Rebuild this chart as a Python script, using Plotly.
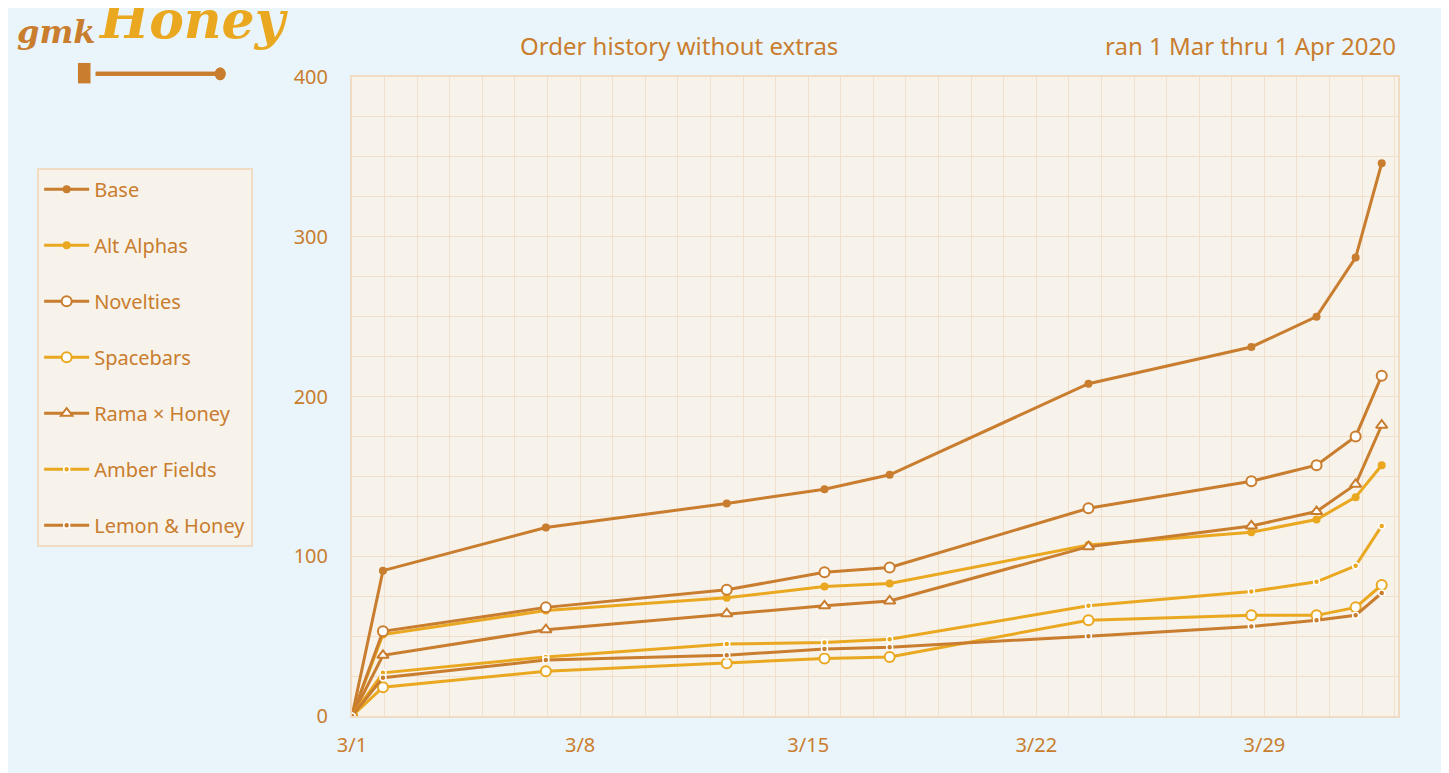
import plotly.graph_objects as go

# days since 1 Mar 2020 (00:00)
days = [0, 0.95, 5.95, 11.5, 14.5, 16.5, 22.6, 27.6, 29.6, 30.8, 31.6]
base = [0, 91, 118, 133, 142, 151, 208, 231, 250, 287, 346]
alt_alphas = [0, 51, 66, 74, 81, 83, 107, 115, 123, 137, 157]
novelties = [0, 53, 68, 79, 90, 93, 130, 147, 157, 175, 213]
spacebars = [0, 18, 28, 33, 36, 37, 60, 63, 63, 68, 82]
rama = [0, 38, 54, 64, 69, 72, 106, 119, 128, 145, 182]
amber = [0, 27, 37, 45, 46, 48, 69, 78, 84, 94, 119]
lemon = [0, 24, 35, 38, 42, 43, 50, 56, 60, 63, 77]
tick_days = [0, 7, 14, 21, 28]
tick_labels = ["3/1", "3/8", "3/15", "3/22", "3/29"]

BROWN = "#C97D2E"
YELLOW = "#EAA820"
PLOTBG = "#F7F2EA"
GRID = "#F0E0CC"
BG = "#EAF5FB"
FONT = "Noto Sans"

series = [
    ("Base", base, BROWN, "circle", BROWN, 8),
    ("Alt Alphas", alt_alphas, YELLOW, "circle", YELLOW, 8),
    ("Novelties", novelties, BROWN, "circle", "white", 10),
    ("Spacebars", spacebars, YELLOW, "circle", "white", 10),
    ("Rama × Honey", rama, BROWN, "triangle-up", "white", 10),
    ("Amber Fields", amber, YELLOW, "circle", YELLOW, 6),
    ("Lemon & Honey", lemon, BROWN, "circle", BROWN, 6),
]

fig = go.Figure()
for i, (name, vals, col, sym, fill, sz) in enumerate(series):
    if fill == "white":
        marker = dict(symbol=sym, size=sz, color="white", line=dict(color=col, width=2))
    elif sz == 6:
        marker = dict(symbol=sym, size=sz, color=col, line=dict(color="white", width=1.5))
    else:
        marker = dict(symbol=sym, size=sz, color=col)
    fig.add_trace(go.Scatter(x=days, y=vals, name=name, mode="lines+markers",
                             line=dict(color=col, width=3), marker=marker,
                             legendgroup=str(i)))

for d in tick_days:
    fig.add_shape(type="line", xref="x", yref="paper", x0=d, x1=d, y0=0, y1=1,
                  line=dict(color="#EFDCC4", width=2.5), layer="below")

fig.update_layout(
    width=1449, height=773,
    paper_bgcolor=BG, plot_bgcolor=PLOTBG,
    margin=dict(l=344, r=59, t=69, b=65),
    font=dict(family=FONT, color=BROWN, size=20),
    showlegend=True,
    legend=dict(x=-0.301, y=0.858, xanchor="left", yanchor="top",
                bgcolor=PLOTBG, bordercolor="#F0DCC2", borderwidth=2,
                font=dict(size=20, color=BROWN), tracegroupgap=27,
                itemwidth=45, entrywidth=200),
    xaxis=dict(range=[0, 32.1], tickmode="array", tickvals=tick_days, ticktext=tick_labels,
               showgrid=True, gridcolor=GRID, gridwidth=1,
               minor=dict(dtick=1, tick0=0, showgrid=True, gridcolor=GRID, gridwidth=1),
               zeroline=False, showline=True, linecolor="#F0DCC2", linewidth=2, mirror=True,
               ticks="", ticklabelstandoff=10, fixedrange=True),
    yaxis=dict(range=[0, 400], tickmode="array", tickvals=[0, 100, 200, 300, 400],
               showgrid=True, gridcolor=GRID, gridwidth=1,
               minor=dict(dtick=25, showgrid=True, gridcolor=GRID, gridwidth=1),
               zeroline=False, showline=True, linecolor="#F0DCC2", linewidth=2, mirror=True,
               ticks="", ticklabelstandoff=18, fixedrange=True),
    annotations=[
        dict(text="Order history without extras", xref="paper", yref="paper",
             x=0.313, y=1.05, xanchor="center", yanchor="middle", showarrow=False,
             font=dict(size=24, color=BROWN)),
        dict(text="ran 1 Mar thru 1 Apr 2020", xref="paper", yref="paper",
             x=1.0, y=1.05, xanchor="right", yanchor="middle", showarrow=False,
             font=dict(size=24, color=BROWN)),
        dict(text="<i><b>gmk</b></i>", xref="paper", yref="paper", x=-0.322, y=1.07,
             xanchor="left", yanchor="middle", showarrow=False,
             font=dict(family="DejaVu Serif", size=32, color=BROWN)),
        dict(text="<i><b>Honey</b></i>", xref="paper", yref="paper", x=-0.245, y=1.09,
             xanchor="left", yanchor="middle", showarrow=False,
             font=dict(family="DejaVu Serif", size=52, color=YELLOW)),
    ],
    shapes=[
        dict(type="line", xref="paper", yref="paper", x0=-0.245, x1=-0.126, y0=1.005, y1=1.005,
             line=dict(color=BROWN, width=4)),
        dict(type="circle", xref="paper", yref="paper", x0=-0.130, x1=-0.122, y0=0.997, y1=1.013,
             fillcolor=BROWN, line=dict(color=BROWN)),
        dict(type="rect", xref="paper", yref="paper", x0=-0.262, x1=-0.250, y0=0.99, y1=1.022,
             fillcolor=BROWN, line=dict(color=BROWN, width=0)),
    ],
)

fig.write_html("out.html")
